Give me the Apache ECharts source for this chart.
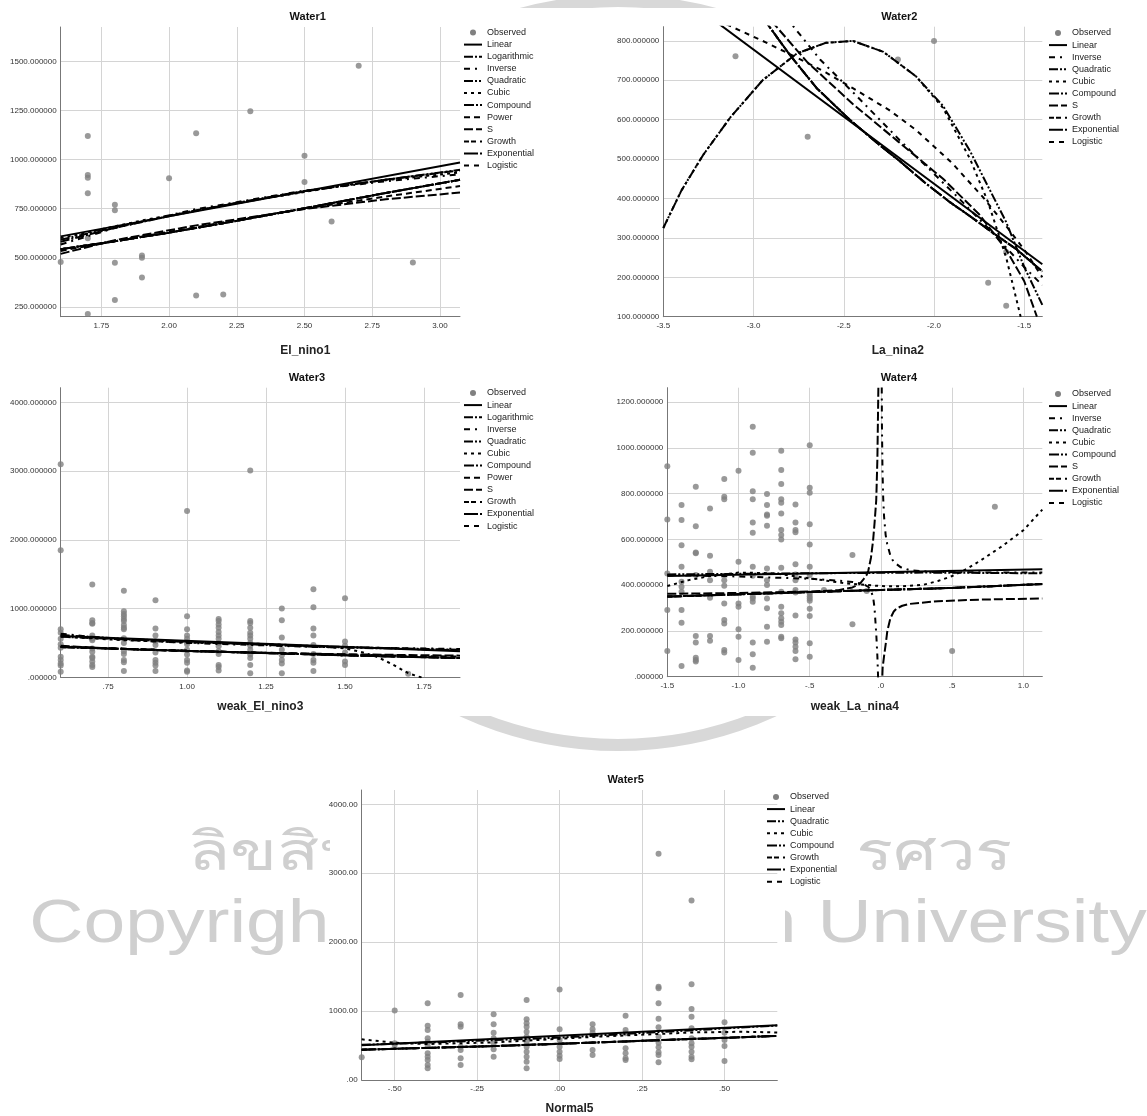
<!DOCTYPE html>
<html><head><meta charset="utf-8">
<script src="https://cdn.jsdelivr.net/npm/echarts@6/dist/echarts.min.js"></script>
<style>html,body{margin:0;padding:0;background:#fff}#c{width:1147px;height:1116px}</style>
</head><body><div id="c"></div><script>
const FONT = '"Liberation Sans", Arial, sans-serif';

// ---------- model lists (legend order) ----------
const MODELS_FULL = ['Linear','Logarithmic','Inverse','Quadratic','Cubic','Compound','Power','S','Growth','Exponential','Logistic'];
const MODELS_NEG = ['Linear','Inverse','Quadratic','Cubic','Compound','S','Growth','Exponential','Logistic'];
const MODELS_5 = ['Linear','Quadratic','Cubic','Compound','Growth','Exponential','Logistic'];

// ---------- Panel 1: Water1 vs El_nino1 ----------
const p1Observed = [[1.6,478],[1.7,1120],[1.7,922],[1.7,908],[1.7,829],[1.7,600],[1.7,214],[1.8,770],[1.8,742],[1.8,475],[1.8,285],[1.9,512],[1.9,500],[1.9,400],[2.0,905],[2.1,1134],[2.1,308],[2.2,313],[2.3,1246],[2.5,1020],[2.5,886],[2.6,685],[2.7,1478],[2.9,476]];
const p1Linear = [[1.6,609],[3.074,985]];
const p1Logarithmic = [[1.6,582],[1.8,652],[2.1,742],[2.5,838],[2.8,898],[3.074,945]];
const p1Inverse = [[1.6,568],[1.8,652],[2.1,748],[2.5,842],[2.8,890],[3.074,925]];
const p1Quadratic = [[1.6,592],[1.8,655],[2.0,712],[2.25,780],[2.5,840],[2.8,897],[3.074,948]];
const p1Cubic = [[1.6,600],[1.9,690],[2.3,790],[2.7,880],[3.074,935]];
const p1Exponential = [[1.6,544],[1.8,584],[2.0,628],[2.25,688],[2.5,752],[2.8,830],[3.074,897]];
const p1Power = [[1.6,535],[1.8,585],[2.0,632],[2.25,692],[2.5,750],[2.8,812],[3.074,865]];
const p1S = [[1.6,520],[1.8,590],[2.1,665],[2.5,748],[2.8,798],[3.074,832]];
const p1XTicks = [1.75,2.0,2.25,2.5,2.75,3.0];
const p1YTicks = [250,500,750,1000,1250,1500];

// ---------- Panel 2: Water2 vs La_nina2 ----------
const p2Observed = [[-3.1,761],[-2.7,557],[-2.2,753],[-2.0,800],[-1.7,186],[-1.6,264],[-1.6,128]];
const p2Linear = [[-3.2,846],[-1.4,233]];
const p2Inverse = [[-2.82,860],[-2.63,752],[-2.45,670],[-2.19,548],[-1.87,404],[-1.69,320],[-1.5,226],[-1.4,180]];
const p2Quadratic = [[-3.5,325],[-3.4,420],[-3.28,510],[-3.13,605],[-2.95,700],[-2.76,768],[-2.6,795],[-2.45,800],[-2.28,772],[-2.1,710],[-1.95,635],[-1.8,520],[-1.7,430],[-1.6,340],[-1.5,226],[-1.4,130]];
const p2Cubic = [[-3.5,325],[-3.4,420],[-3.28,510],[-3.13,605],[-2.95,700],[-2.76,768],[-2.6,795],[-2.45,800],[-2.28,772],[-2.1,710],[-1.95,630],[-1.8,500],[-1.7,390],[-1.6,250],[-1.52,100],[-1.5,60]];
const p2Exponential = [[-2.95,860],[-2.8,765],[-2.65,680],[-2.465,599],[-2.3,535],[-2.19,495],[-2.05,440],[-1.91,390],[-1.8,355],[-1.69,318],[-1.54,270],[-1.4,215]];
const p2S = [[-2.9,850],[-2.7,745],[-2.45,640],[-2.2,545],[-1.95,450],[-1.75,360],[-1.6,270],[-1.5,190],[-1.43,100]];
const p2Logistic = [[-3.15,842],[-2.95,800],[-2.77,760],[-2.6,720],[-2.45,680],[-2.25,625],[-2.1,574],[-1.9,490],[-1.73,404],[-1.6,330],[-1.5,270],[-1.4,200]];
const p2XTicks = [-3.5,-3.0,-2.5,-2.0,-1.5];
const p2YTicks = [100,200,300,400,500,600,700,800];

// ---------- Panel 3: Water3 vs weak_El_nino3 ----------
const p3ObsX = [0.6,0.7,0.8,0.9,1.0,1.1,1.2,1.3,1.4,1.5,1.7];
const p3ObsY = [
  [3100,1850,700,650,560,480,430,300,250,200,170,80],
  [1350,830,790,780,610,560,540,420,370,300,280,230,180,150],
  [1260,960,920,890,850,820,760,720,700,570,500,380,340,250,220,90],
  [1120,710,610,520,470,360,250,210,170,90],
  [2420,890,700,610,560,510,480,400,330,250,210,100,80],
  [850,820,770,720,660,610,560,500,450,380,340,180,150,100],
  [3010,820,790,720,650,610,560,500,460,400,330,280,180,60],
  [1000,830,580,400,320,250,200,60],
  [1280,1020,710,610,470,340,250,210,90],
  [1150,520,460,360,230,180],
  [50]
];
const p3Linear = [[0.6,600],[1.864,380]];
const p3Logarithmic = [[0.6,615],[0.8,560],[1.0,520],[1.4,452],[1.864,400]];
const p3Inverse = [[0.6,635],[0.7,585],[0.8,545],[1.0,500],[1.4,442],[1.864,412]];
const p3Quadratic = [[0.6,590],[1.0,515],[1.4,445],[1.864,395]];
const p3Cubic = [[0.6,592],[0.8,540],[1.0,505],[1.25,485],[1.4,455],[1.5,420],[1.55,370],[1.6,300],[1.65,190],[1.7,60],[1.74,0],[1.76,-60]];
const p3Exponential = [[0.6,440],[1.0,385],[1.5,320],[1.864,280]];
const p3Power = [[0.6,448],[1.0,385],[1.5,330],[1.864,300]];
const p3S = [[0.6,458],[0.8,410],[1.0,380],[1.5,335],[1.864,315]];
const p3XTicks = [0.75,1.0,1.25,1.5,1.75];
const p3YTicks = [0,1000,2000,3000,4000];

// ---------- Panel 4: Water4 vs weak_La_nina4 ----------
const p4ObsX = [-1.5,-1.4,-1.3,-1.2,-1.1,-1.0,-0.9,-0.8,-0.7,-0.6,-0.5,-0.4,-0.2,-0.1,0.5,0.8];
const p4ObsY = [
  [920,687,451,291,112],
  [750,685,575,481,415,393,371,291,236,47],
  [830,658,543,539,444,178,149,83,73,66],
  [735,529,459,422,345,178,157],
  [864,786,775,422,398,320,248,233,117,106],
  [900,502,320,306,207,175,73],
  [1092,979,811,775,674,629,481,441,350,342,328,149,98,39],
  [798,750,709,703,660,473,422,401,342,299,218,153],
  [987,903,842,775,760,713,641,619,600,476,371,306,277,255,240,226,175,168],
  [753,674,641,631,491,447,422,379,368,267,163,149,131,112,76],
  [1011,826,804,666,578,481,444,364,352,342,332,297,265,146,87],
  [379],
  [532,229],
  [374],
  [112],
  [743]
];
const p4Linear = [[-1.5,440],[1.133,470]];
const p4Inverse = [[-1.5,444],[-1.0,438],[-0.5,428],[-0.3,420],[-0.2,414],[-0.15,408],[-0.11,400],[-0.088,392],[-0.07,375],[-0.055,349],[-0.045,300],[-0.033,189],[-0.025,90],[-0.02,0],[-0.012,-300],[0,'-'],[0.004,1500],[0.007,1100],[0.011,900],[0.016,780],[0.022,700],[0.033,620],[0.044,580],[0.066,530],[0.088,502],[0.14,478],[0.2,466],[0.35,458],[0.7,456],[1.133,455]];
const p4Quadratic = [[-1.5,447],[-0.5,452],[0.3,455],[1.133,452]];
const p4Cubic = [[-1.5,396],[-1.35,422],[-1.2,440],[-1.0,455],[-0.75,452],[-0.5,430],[-0.25,408],[0,396],[0.15,395],[0.3,402],[0.4,418],[0.5,440],[0.6,470],[0.7,508],[0.85,570],[1.0,640],[1.133,730]];
const p4Exponential = [[-1.5,350],[-0.5,370],[0.5,388],[1.133,405]];
const p4S = [[-1.5,362],[-1.0,366],[-0.5,372],[-0.3,378],[-0.2,390],[-0.15,405],[-0.12,428],[-0.1,445],[-0.088,465],[-0.07,520],[-0.055,596],[-0.045,670],[-0.033,771],[-0.025,950],[-0.018,1263],[-0.014,1600],[0,'-'],[0.004,-100],[0.012,40],[0.022,90],[0.033,140],[0.045,200],[0.066,255],[0.09,285],[0.11,298],[0.15,310],[0.2,318],[0.4,330],[0.7,337],[1.133,342]];
const p4XTicks = [-1.5,-1.0,-0.5,0,0.5,1.0];
const p4YTicks = [0,200,400,600,800,1000,1200];

// ---------- Panel 5: Water5 vs Normal5 ----------
const p5ObsX = [-0.6,-0.5,-0.4,-0.3,-0.2,-0.1,0,0.1,0.2,0.3,0.4,0.5];
const p5ObsY = [
  [329],
  [1010,532,508],
  [1112,788,725,604,556,493,387,338,290,218,169],
  [1233,808,774,484,435,314,218],
  [953,808,687,604,532,445,338],
  [1160,880,822,774,701,629,556,484,411,338,266,169],
  [1315,735,580,484,411,353,305],
  [808,735,687,435,363],
  [933,725,677,459,387,314,290],
  [3283,1354,1330,1112,890,764,629,542,474,401,363,256],
  [2606,1388,1030,919,750,604,532,484,411,338,300],
  [837,687,580,493,276]
];
const p5Linear = [[-0.6,505],[0.66,795]];
const p5Quadratic = [[-0.6,510],[-0.3,560],[0,615],[0.3,695],[0.66,790]];
const p5Cubic = [[-0.6,590],[-0.5,540],[-0.4,522],[-0.2,545],[0.1,625],[0.4,690],[0.55,700],[0.66,690]];
const p5Exponential = [[-0.6,440],[-0.2,492],[0.2,560],[0.66,640]];
const p5XTicks = [-0.5,-0.25,0,0.25,0.5];
const p5YTicks = [0,1000,2000,3000,4000];

const titles = ['Water1','Water2','Water3','Water4','Water5'];
const xNames = ['El_nino1','La_nina2','weak_El_nino3','weak_La_nina4','Normal5'];

// ---------- helpers ----------
function pairs(xs, ys) { const out = []; xs.forEach((x, i) => ys[i].forEach(y => out.push([x, y]))); return out; }
const strip = s => s.replace(/^(-?)0\./, '$1.');
const fx = d => v => strip(Number(v).toFixed(d));

const DASH = {
  Linear: 'solid', Logarithmic: [9,2,2,2], Inverse: [6,5,2,5], Quadratic: [9,2,2,2,2,2],
  Cubic: [3,4], Compound: [10,2,2,2], Power: [6,4], S: [9,3], Growth: [5,2,5,4,2,4],
  Exponential: [14,2,2,2], Logistic: [5,5]
};

const panels = [
  { obs: p1Observed, models: MODELS_FULL,
    fits: [p1Linear,p1Logarithmic,p1Inverse,p1Quadratic,p1Cubic,p1Exponential,p1Power,p1S,p1Exponential,p1Exponential,p1Exponential],
    x: [1.6,3.074], y: [200,1675], xt: p1XTicks, yt: p1YTicks, xf: fx(2), yf: fx(6) },
  { obs: p2Observed, models: MODELS_NEG,
    fits: [p2Linear,p2Inverse,p2Quadratic,p2Cubic,p2Exponential,p2S,p2Exponential,p2Exponential,p2Logistic],
    x: [-3.5,-1.4], y: [100,836], xt: p2XTicks, yt: p2YTicks, xf: fx(1), yf: fx(6) },
  { obs: pairs(p3ObsX, p3ObsY), models: MODELS_FULL,
    fits: [p3Linear,p3Logarithmic,p3Inverse,p3Quadratic,p3Cubic,p3Exponential,p3Power,p3S,p3Exponential,p3Exponential,p3Exponential],
    x: [0.6,1.864], y: [0,4214], xt: p3XTicks, yt: p3YTicks, xf: fx(2), yf: fx(6) },
  { obs: pairs(p4ObsX, p4ObsY), models: MODELS_NEG,
    fits: [p4Linear,p4Inverse,p4Quadratic,p4Cubic,p4Exponential,p4S,p4Exponential,p4Exponential,p4Exponential],
    x: [-1.5,1.133], y: [0,1263], xt: p4XTicks, yt: p4YTicks, xf: fx(1), yf: fx(6) },
  { obs: pairs(p5ObsX, p5ObsY), models: MODELS_5,
    fits: [p5Linear,p5Quadratic,p5Cubic,p5Exponential,p5Exponential,p5Exponential,p5Exponential],
    x: [-0.6,0.66], y: [0,4208], xt: p5XTicks, yt: p5YTicks, xf: fx(2), yf: fx(2) }
];

// layout (pixels)
const LAYOUT = [
  { grid: {left: 60.7, top: 27, width: 399.3, height: 289.7}, title: [307.7, 11], legend: [463, 26.5], nameGap: 28, namePad: 90 },
  { grid: {left: 663.3, top: 26.7, width: 379, height: 290}, title: [899.3, 11], legend: [1048, 27], nameGap: 28, namePad: 90 },
  { grid: {left: 60.7, top: 387.7, width: 399.3, height: 289.6}, title: [307, 372], legend: [463, 387], nameGap: 23, namePad: 0 },
  { grid: {left: 667.3, top: 387.7, width: 375, height: 289}, title: [899, 372], legend: [1048, 388], nameGap: 24, namePad: 0 },
  { grid: {left: 361.7, top: 790, width: 415.6, height: 290}, title: [625.7, 774], legend: [766, 791], nameGap: 23, namePad: 0 }
];

const option = {
  animation: false,
  backgroundColor: '#fff',
  textStyle: { fontFamily: FONT },
  title: [], legend: [], grid: [], xAxis: [], yAxis: [], series: [],
  graphic: [
    { type: 'circle', z: -5, shape: { cx: 618, cy: 373, r: 372 }, style: { fill: 'none', stroke: '#d8d8d8', lineWidth: 12 } },
    { type: 'text', z: -5, x: 600, y: 855, scaleX: 1.28, style: { text: 'ลิขสิทธิ์มหาวิทยาลัยนเรศวร', font: '54px "Noto Sans", sans-serif', fill: '#cfcfcf', align: 'center', verticalAlign: 'middle' } },
    { type: 'text', z: -5, x: 588, y: 925, scaleX: 1.21, style: { text: 'Copyright by Naresuan University', font: '62px ' + FONT, fill: '#cfcfcf', align: 'center', verticalAlign: 'middle' } },
    { type: 'rect', z: -4, shape: { x: 0, y: 8, width: 1147, height: 708 }, style: { fill: '#fff' } },
    { type: 'rect', z: -4, shape: { x: 330, y: 760, width: 530, height: 135 }, style: { fill: '#fff' } },
    { type: 'rect', z: -4, shape: { x: 330, y: 895, width: 455, height: 221 }, style: { fill: '#fff' } }
  ]
};

panels.forEach((p, gi) => {
  const L = LAYOUT[gi];
  option.grid.push(Object.assign({ show: false, containLabel: false, outerBoundsMode: 'none' }, L.grid));
  option.title.push({ text: titles[gi], left: L.title[0], top: L.title[1], textAlign: 'center', padding: 0,
    textStyle: { fontSize: 11, fontWeight: 'bold', color: '#111', fontFamily: FONT } });
  option.xAxis.push({
    type: 'value', gridIndex: gi, min: p.x[0], max: p.x[1],
    name: xNames[gi], nameLocation: 'middle', nameGap: L.nameGap,
    nameTextStyle: { fontSize: 12, fontWeight: 'bold', color: '#222', fontFamily: FONT, padding: [0, 0, 0, L.namePad] },
    axisLine: { show: true, onZero: false, lineStyle: { color: '#777', width: 1 } },
    axisTick: { show: false, customValues: p.xt },
    axisLabel: { customValues: p.xt, formatter: p.xf, fontSize: 8, color: '#333', margin: 5, fontFamily: FONT },
    splitLine: { show: true, lineStyle: { color: '#d4d4d4', width: 1 } }
  });
  option.yAxis.push({
    type: 'value', gridIndex: gi, min: p.y[0], max: p.y[1],
    axisLine: { show: true, onZero: false, lineStyle: { color: '#777', width: 1 } },
    axisTick: { show: false, customValues: p.yt },
    axisLabel: { customValues: p.yt, formatter: p.yf, fontSize: 8, color: '#333', margin: 4, fontFamily: FONT },
    splitLine: { show: true, lineStyle: { color: '#d4d4d4', width: 1 } }
  });
  option.series.push({
    type: 'scatter', name: 'Observed', xAxisIndex: gi, yAxisIndex: gi, data: p.obs,
    symbol: 'circle', symbolSize: 6, itemStyle: { color: '#808080' }, z: 2, silent: true
  });
  p.models.forEach((m, k) => {
    option.series.push({
      type: 'line', name: m, xAxisIndex: gi, yAxisIndex: gi, data: p.fits[k],
      symbol: 'none', showSymbol: false, smooth: false, clip: true,
      lineStyle: { color: '#000', width: 2, type: DASH[m] }, itemStyle: { color: '#000' }, z: 3, silent: true
    });
  });
  option.legend.push({
    orient: 'vertical', left: L.legend[0], top: L.legend[1], padding: 0, itemGap: 0.1,
    itemWidth: 18, itemHeight: 6, selectedMode: false, align: 'left',
    itemStyle: { opacity: 0 },
    textStyle: { fontSize: 9, color: '#222', fontFamily: FONT, lineHeight: 12 },
    data: [{ name: 'Observed', icon: 'circle', itemStyle: { opacity: 1, color: '#808080' } }].concat(p.models)
  });
});

const chart = echarts.init(document.getElementById('c'), null, { renderer: 'canvas' });
chart.setOption(option);
</script></body></html>
